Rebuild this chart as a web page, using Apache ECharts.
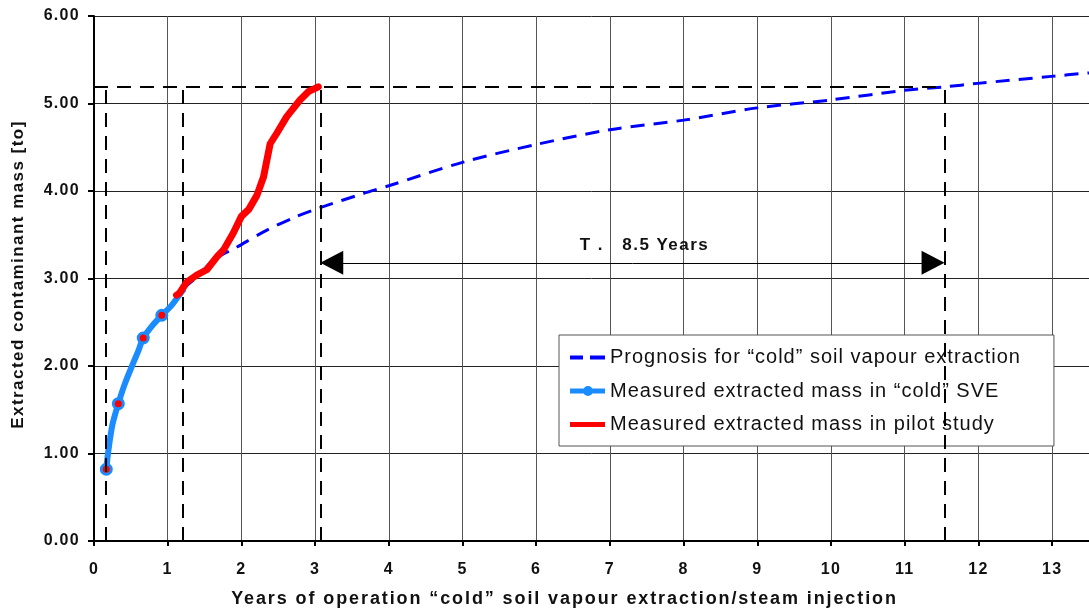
<!DOCTYPE html>
<html>
<head>
<meta charset="utf-8">
<script src="https://cdn.jsdelivr.net/npm/echarts@6/dist/echarts.min.js"></script>
<style>
html,body{margin:0;padding:0;background:#fff;}
#chart{width:1089px;height:608px;}
</style>
</head>
<body>
<div id="chart"></div>
<script>
// ---- data ----
var seriesNames = ['Prognosis for \u201ccold\u201d soil vapour extraction',
                   'Measured extracted mass in \u201ccold\u201d SVE',
                   'Measured extracted mass in pilot study'];
var xTicks = [0,1,2,3,4,5,6,7,8,9,10,11,12,13];
var yTicks = [0,1,2,3,4,5,6];

var progX = [1.20,1.40,1.62,1.94,2.34,2.75,3.07,3.65,4.00,5.01,5.99,7.00,8.00,9.00,9.99,10.99,11.54,11.99,12.99,13.50];
var progY = [2.88,3.02,3.21,3.36,3.55,3.71,3.81,3.97,4.06,4.33,4.53,4.70,4.81,4.95,5.04,5.15,5.19,5.23,5.31,5.35];

var coldX = [0.167,0.19,0.25,0.33,0.42,0.54,0.60,0.668,0.78,0.92,1.05,1.157,1.22];
var coldY = [0.82,1.00,1.33,1.57,1.80,2.05,2.17,2.32,2.45,2.58,2.69,2.81,2.88];
var coldMarker = [true,false,false,true,false,false,false,true,false,true,false,false,false];

var pilotX = [1.12,1.157,1.26,1.395,1.53,1.67,1.76,1.89,2.00,2.10,2.21,2.30,2.39,2.48,2.615,2.795,2.908,3.043];
var pilotY = [2.81,2.83,2.96,3.04,3.10,3.25,3.33,3.52,3.71,3.79,3.95,4.16,4.54,4.66,4.85,5.04,5.135,5.19];

// reference dashed lines: verticals at these x up to refTop, horizontal at refTop
var refVX = [0.163,1.21,3.07,11.54];
var refTop = 5.19;
var refHX = [0,11.54];
// duration arrow (centres of the two arrow heads, tips touch the dashed lines)
var arrowX = [3.226,11.384];
var arrowY = 3.18;
var arrowText = 'T .   8.5 Years';

// ---- text letter spacing (the reference text is spaced out) ----
(function(){
  var P = window.CanvasRenderingContext2D && CanvasRenderingContext2D.prototype;
  if(!P || !('letterSpacing' in P)) return;
  var map = {16:1.3, 17:1.45, 18:1.9, 20:1.0};
  function ls(ctx){
    var m = /(\d+(?:\.\d+)?)px/.exec(ctx.font || '');
    var s = m ? map[Math.round(parseFloat(m[1]))] : 0;
    ctx.letterSpacing = (s || 0) + 'px';
  }
  var ft = P.fillText, mt = P.measureText, st = P.strokeText;
  P.fillText = function(){ ls(this); return ft.apply(this, arguments); };
  P.strokeText = function(){ ls(this); return st.apply(this, arguments); };
  P.measureText = function(){ ls(this); return mt.apply(this, arguments); };
})();

function pairs(xs, ys){ return xs.map(function(x,i){ return [x, ys[i]]; }); }

var refLines = refVX.map(function(x){ return [{coord:[x,0]},{coord:[x,refTop]}]; });
refLines.push([{coord:[refHX[0],refTop]},{coord:[refHX[1],refTop]}]);

var coldData = coldX.map(function(x,i){
  var d = {value:[x, coldY[i]]};
  if(!coldMarker[i]) d.symbol = 'none';
  return d;
});

var chart = echarts.init(document.getElementById('chart'), null, {renderer:'canvas'});
var FONT = 'Liberation Sans, Arial, sans-serif';
chart.setOption({
  animation:false,
  backgroundColor:'#fff',
  grid:{left:94, right:0, top:16, bottom:67, containLabel:false, outerBoundsMode:'none'},
  legend:{
    orient:'vertical',
    left:559, top:335,
    padding:[12,33,11,11],
    itemGap:12.5,
    itemWidth:35, itemHeight:10,
    symbolKeepAspect:true,
    backgroundColor:'#fff',
    borderColor:'#555', borderWidth:1,
    textStyle:{fontFamily:FONT, fontSize:20, color:'#111'},
    data:[
      {name:seriesNames[0], icon:'path://M0,0h13v4h-13zM20,0h15v4h-15z', itemStyle:{color:'#0000ff', borderWidth:0}},
      {name:seriesNames[1], icon:'path://M0,3h35v5h-35zM13,5.5a5,5 0 1,1 10,0a5,5 0 1,1 -10,0z', itemStyle:{color:'#1a8cff', borderWidth:0}},
      {name:seriesNames[2], icon:'path://M0,0h35v5h-35z', itemStyle:{color:'#ff0000', borderWidth:0}}
    ]
  },
  xAxis:[{
    type:'value', min:0, max:13.5, interval:1,
    name:'Years of operation \u201ccold\u201d soil vapour extraction/steam injection',
    nameLocation:'middle', nameGap:48,
    nameTextStyle:{fontFamily:FONT, fontSize:18, fontWeight:'bold', color:'#111', padding:[0,54,0,0]},
    axisLine:{show:true, onZero:false, lineStyle:{color:'#000', width:2}},
    axisTick:{show:true, inside:false, length:5, lineStyle:{color:'#000', width:2}},
    axisLabel:{margin:20, fontFamily:FONT, fontSize:16, fontWeight:'bold', color:'#111', showMaxLabel:false,
      formatter:function(v){ return xTicks.indexOf(v) >= 0 ? String(v) : ''; }},
    splitLine:{show:true, lineStyle:{color:'#555', width:1}}
  },{
    type:'value', min:0, max:13.5, position:'top',
    axisLine:{show:true, lineStyle:{color:'#000', width:2}},
    axisTick:{show:false}, axisLabel:{show:false}, splitLine:{show:false}
  }],
  yAxis:{
    type:'value', min:0, max:6, interval:1,
    name:'Extracted contaminant mass [to]',
    nameLocation:'middle', nameGap:66,
    nameTextStyle:{fontFamily:FONT, fontSize:17, fontWeight:'bold', color:'#111', padding:[0,0,0,8]},
    axisLine:{show:true, lineStyle:{color:'#000', width:2}},
    axisTick:{show:true, length:6, lineStyle:{color:'#000', width:2}},
    axisLabel:{margin:14, fontFamily:FONT, fontSize:16, fontWeight:'bold', color:'#111',
      formatter:function(v){ return yTicks.indexOf(v) >= 0 ? v.toFixed(2) : ''; }},
    splitLine:{show:true, lineStyle:{color:'#222', width:1}}
  },
  series:[
    {
      name:seriesNames[0], type:'line', data:pairs(progX, progY),
      showSymbol:false, symbol:'none', smooth:0.3,
      lineStyle:{color:'#0000ff', width:3, type:[14,9]},
      itemStyle:{color:'#0000ff'}, z:3
    },
    {
      name:seriesNames[1], type:'line', data:coldData,
      symbol:'circle', symbolSize:10, smooth:0.3,
      lineStyle:{color:'#1a8cff', width:6},
      itemStyle:{color:'#ff0000', borderColor:'#1a8cff', borderWidth:3}, z:4
    },
    {
      name:seriesNames[2], type:'line', data:pairs(pilotX, pilotY),
      showSymbol:false, symbol:'none',
      lineStyle:{color:'#ff0000', width:7, cap:'round', join:'round'},
      itemStyle:{color:'#ff0000'}, z:5
    },
    {
      name:'ref', type:'line', data:[], silent:true,
      markLine:{
        silent:true, symbol:'none', animation:false,
        label:{show:false},
        lineStyle:{color:'#000', width:2, type:[14,9]},
        data:refLines
      }, z:2
    },
    {
      name:'arrow', type:'line', data:[], silent:true,
      markLine:{
        silent:true, animation:false,
        symbol:['triangle','triangle'], symbolSize:[24,23],
        lineStyle:{color:'#000', width:1, type:'solid'},
        label:{show:true, position:'middle', formatter:arrowText, distance:8,
          fontFamily:FONT, fontSize:17, fontWeight:'bold', color:'#111', padding:[0,0,0,24]},
        data:[[{coord:[arrowX[0],arrowY]},{coord:[arrowX[1],arrowY]}]]
      }, z:2
    }
  ]
});
</script>
</body>
</html>
